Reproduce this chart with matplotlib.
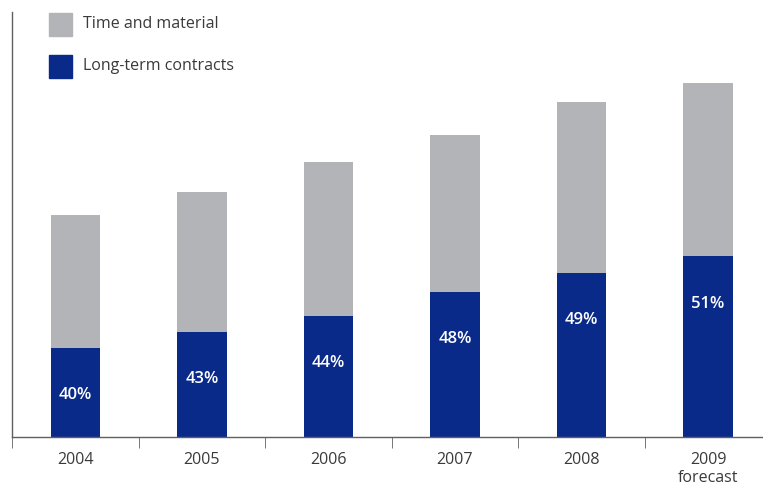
import matplotlib
matplotlib.use("Agg")
import matplotlib.pyplot as plt
from matplotlib.patches import Rectangle

# Revenue index per year and share of long-term contracts
years = ["2004", "2005", "2006", "2007", "2008", "2009\nforecast"]
totals = [222, 245, 275, 302, 335, 354]
long_term_share = [40, 43, 44, 48, 49, 51]

long_term = [t * s / 100 for t, s in zip(totals, long_term_share)]
time_material = [t - lt for t, lt in zip(totals, long_term)]

GRAY = "#b3b4b8"
BLUE = "#0a2a8a"
AXIS = "#606060"
TEXT = "#3a3a3a"

plt.rcParams["font.family"] = ["Open Sans", "DejaVu Sans"]

W, H = 763, 488
fig = plt.figure(figsize=(W / 100, H / 100), dpi=100)
left, bottom, top = 12, 437, 12
ax = fig.add_axes([left / W, (H - bottom) / H, 1 - left / W, (bottom - top) / H])

x = list(range(len(years)))
width = 0.39
ax.bar(x, long_term, width, color=BLUE, zorder=2)
ax.bar(x, time_material, width, bottom=long_term, color=GRAY, zorder=2)

for xi, lt, s in zip(x, long_term, long_term_share):
    ax.annotate(f"{s}%", xy=(xi, lt), xytext=(0, -34), textcoords="offset points",
                ha="center", va="center", color="white", fontsize=12, fontweight="semibold")

ax.set_xlim(-0.5, 5.434)
ax.set_ylim(0, bottom - top)

for side in ("top", "right"):
    ax.spines[side].set_visible(False)
for side in ("left", "bottom"):
    ax.spines[side].set_color(AXIS)
    ax.spines[side].set_linewidth(1.0)

ax.set_yticks([])
ax.set_xticks(x)
ax.set_xticklabels(years, fontsize=11.5, color=TEXT, linespacing=1.15, va="top")
ax.tick_params(axis="x", length=0, pad=11)
# category separators below the baseline
ax.set_xticks([i - 0.5 for i in range(len(years))], minor=True)
ax.tick_params(axis="x", which="minor", length=8, color=AXIS, direction="out")

# legend drawn as figure-level squares and labels
for (y0, col, label) in [(13, GRAY, "Time and material"), (55, BLUE, "Long-term contracts")]:
    fig.patches.append(Rectangle((49 / W, 1 - (y0 + 23) / H), 23 / W, 23 / H,
                                 transform=fig.transFigure, color=col))
    fig.text(83 / W, 1 - (y0 + 11.5) / H, label, fontsize=11.5, color=TEXT,
             va="center", ha="left")

fig.savefig("out.png", dpi=100)
